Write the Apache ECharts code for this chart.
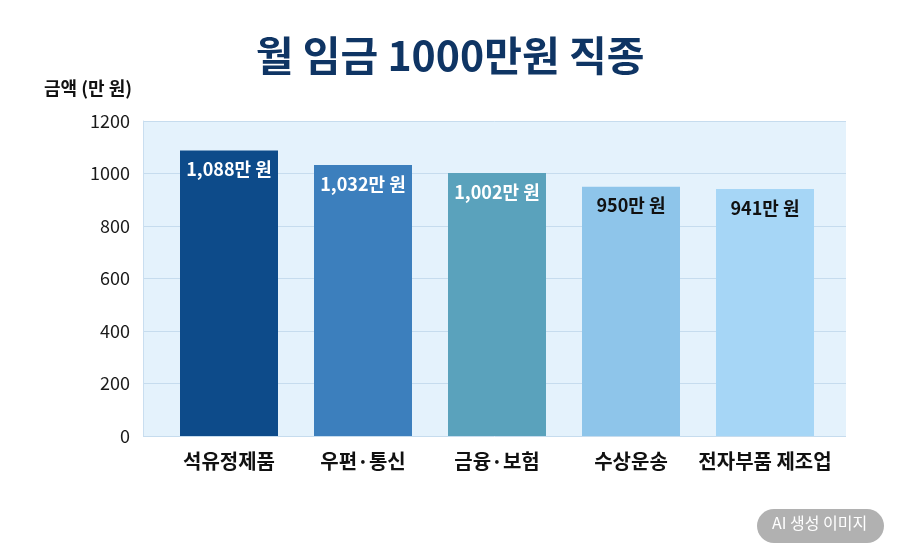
<!DOCTYPE html>
<html>
<head>
<meta charset="utf-8">
<script src="https://cdn.jsdelivr.net/npm/echarts@6/dist/echarts.min.js"></script>
<style>
  html, body { margin: 0; padding: 0; background: #fff; }
  #chart { width: 900px; height: 559px; }
</style>
</head>
<body>
<div id="chart"></div>
<script>
// 직종별 월 임금 (만 원)
var categories = ['석유정제품', '우편·통신', '금융·보험', '수상운송', '전자부품 제조업'];
var wages = [1088, 1032, 1002, 950, 941];
var barColors = ['#0d4b8a', '#3c7fbd', '#5aa2bc', '#8ec5ea', '#a6d6f6'];
var labelColors = ['#ffffff', '#ffffff', '#ffffff', '#111111', '#111111'];
var yTicks = [0, 200, 400, 600, 800, 1000, 1200];

var FONT = '"Noto Sans CJK KR", "Noto Sans", sans-serif';

var myChart = echarts.init(document.getElementById('chart'));

var barData = wages.map(function (v, i) {
  return {
    value: v,
    itemStyle: { color: barColors[i] },
    label: { color: labelColors[i] }
  };
});

var option = {
  backgroundColor: '#ffffff',
  title: {
    text: '월 임금 1000만원 직종',
    left: 'center',
    top: 30,
    textStyle: {
      fontFamily: FONT,
      fontSize: 41,
      fontWeight: 'bold',
      color: '#0f3564'
    }
  },
  grid: [
    // 배경 + 눈금선
    { left: 143, right: 54, top: 121, bottom: 123, show: true, backgroundColor: '#e4f2fc', borderWidth: 0 },
    // 막대
    { left: 162, right: 68, top: 121, bottom: 123 }
  ],
  xAxis: [
    { gridIndex: 0, type: 'value', show: false, min: 0, max: 1 },
    {
      gridIndex: 1,
      type: 'category',
      data: categories,
      axisLine: { show: false },
      axisTick: { show: false },
      axisLabel: {
        interval: 0,
        margin: 15,
        fontFamily: FONT,
        fontSize: 20,
        fontWeight: 'bold',
        color: '#111'
      }
    }
  ],
  yAxis: [
    {
      gridIndex: 0,
      type: 'value',
      min: 0,
      max: 1200,
      interval: 200,
      name: '금액 (만 원)',
      nameLocation: 'end',
      nameGap: 24,
      nameTextStyle: {
        fontFamily: FONT,
        fontSize: 18,
        fontWeight: 'bold',
        color: '#111',
        align: 'center',
        padding: [0, 0, 0, -110]
      },
      axisLine: { show: true, lineStyle: { color: '#c9def0' } },
      axisTick: { show: false },
      axisLabel: {
        margin: 13,
        fontFamily: FONT,
        fontSize: 18,
        color: '#1a1a1a',
        formatter: function (v) { return yTicks.indexOf(v) >= 0 ? String(v) : ''; }
      },
      splitLine: { show: true, lineStyle: { color: '#c6dcee', width: 1 } }
    },
    { gridIndex: 1, type: 'value', min: 0, max: 1200, show: false }
  ],
  series: [
    {
      name: '월 임금',
      type: 'bar',
      xAxisIndex: 1,
      yAxisIndex: 1,
      barWidth: 98,
      data: barData,
      label: {
        show: true,
        position: 'insideTop',
        distance: 10,
        fontFamily: FONT,
        fontSize: 18,
        fontWeight: 'bold',
        formatter: function (p) {
          return p.value.toLocaleString('en-US') + '만 원';
        }
      }
    }
  ],
  graphic: [
    {
      type: 'rect',
      left: 757,
      top: 509,
      shape: { width: 127, height: 34, r: 17 },
      style: { fill: '#b1b1b1' }
    },
    {
      type: 'text',
      left: 772,
      top: 515,
      style: {
        text: 'AI 생성 이미지',
        fill: '#ffffff',
        font: '16px ' + FONT
      }
    }
  ]
};

myChart.setOption(option);
</script>
</body>
</html>
